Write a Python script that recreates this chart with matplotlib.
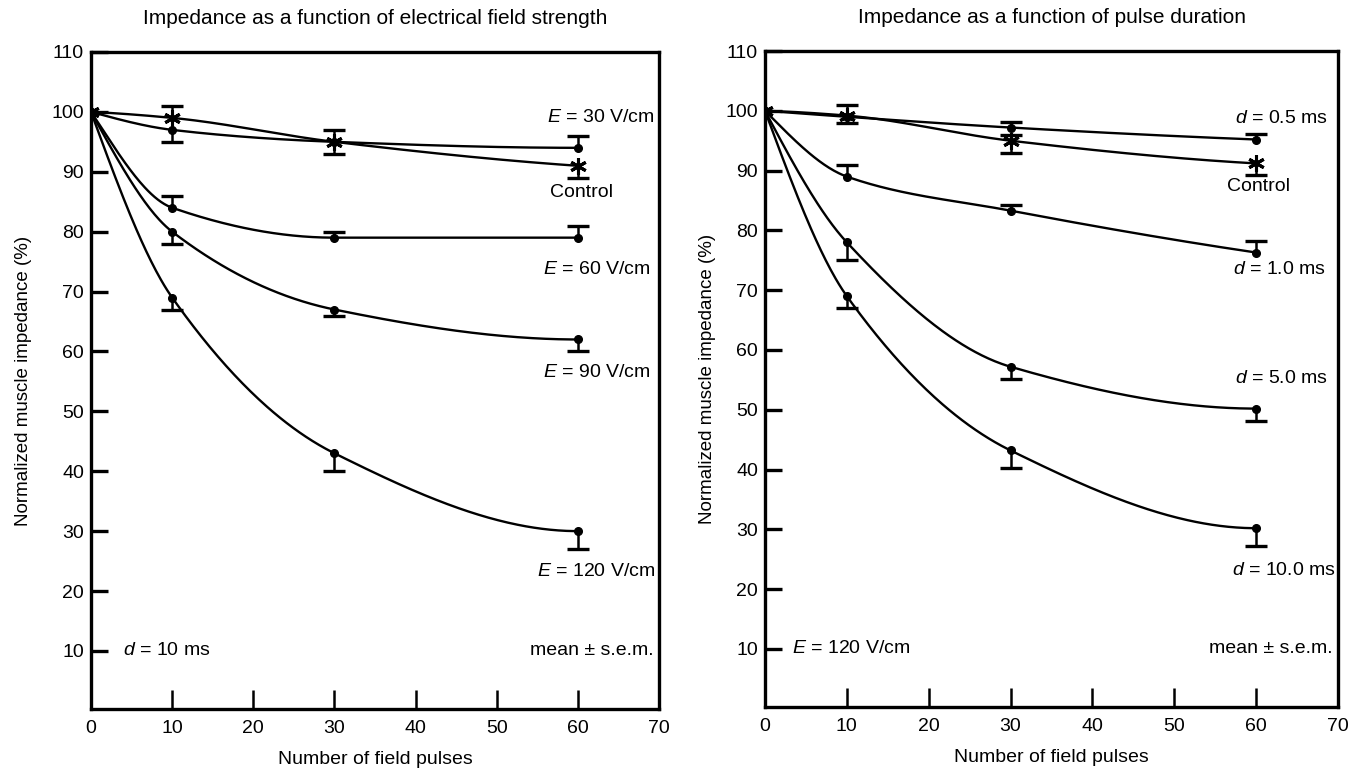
import numpy as np
import matplotlib
matplotlib.use("Agg")
import matplotlib.pyplot as plt

plt.rcParams['font.family'] = ['Liberation Sans', 'DejaVu Sans']
plt.rcParams['mathtext.fontset'] = 'custom'
plt.rcParams['mathtext.rm'] = 'Liberation Sans'
plt.rcParams['mathtext.it'] = 'Liberation Sans:italic'

# ---------------- data ----------------
pulses = [0, 10, 30, 60]

# Left panel: field strength (d = 10 ms)
e30 = [100, 97, 95, 94]
e30_up = [0, 0, 0, 2]
e30_dn = [0, 2, 0, 0]
ctrl_l = [100, 99, 95, 91]
ctrl_l_up = [0, 2, 2, 0]
ctrl_l_dn = [0, 0, 2, 2]
e60 = [100, 84, 79, 79]
e60_up = [0, 2, 1, 2]
e60_dn = [0, 0, 0, 0]
e90 = [100, 80, 67, 62]
e90_up = [0, 0, 0, 0]
e90_dn = [0, 2, 1, 2]
e120 = [100, 69, 43, 30]
e120_up = [0, 0, 0, 0]
e120_dn = [0, 2, 3, 3]

# Right panel: pulse duration (E = 120 V/cm)
d05 = [100, 99, 97.2, 95.2]
d05_up = [0, 0, 1, 1]
d05_dn = [0, 0, 0, 0]
ctrl_r = [100, 99.2, 95, 91.2]
ctrl_r_up = [0, 1.8, 1, 0]
ctrl_r_dn = [0, 1.2, 2, 2]
d10 = [100, 89, 83.3, 76.3]
d10_up = [0, 2, 1, 2]
d10_dn = [0, 0, 0, 0]
d50 = [100, 78, 57.2, 50.2]
d50_up = [0, 0, 0, 0]
d50_dn = [0, 3, 2, 2]
d100 = [100, 69, 43.2, 30.2]
d100_up = [0, 0, 0, 0]
d100_dn = [0, 2, 3, 3]

x_ticks = [0, 10, 20, 30, 40, 50, 60, 70]
y_ticks = [10, 20, 30, 40, 50, 60, 70, 80, 90, 100, 110]

title_left = "Impedance as a function of electrical field strength"
title_right = "Impedance as a function of pulse duration"
xlabel = "Number of field pulses"
ylabel = "Normalized muscle impedance (%)"


def pchip(x, y, xs):
    x = np.asarray(x, float)
    y = np.asarray(y, float)
    h = np.diff(x)
    delta = np.diff(y) / h
    n = len(x)
    d = np.zeros(n)
    for k in range(1, n - 1):
        if delta[k - 1] * delta[k] > 0:
            w1 = 2 * h[k] + h[k - 1]
            w2 = h[k] + 2 * h[k - 1]
            d[k] = (w1 + w2) / (w1 / delta[k - 1] + w2 / delta[k])
    def end(h0, h1, d0, d1):
        dd = ((2 * h0 + h1) * d0 - h0 * d1) / (h0 + h1)
        if np.sign(dd) != np.sign(d0):
            dd = 0
        elif np.sign(d0) != np.sign(d1) and abs(dd) > abs(3 * d0):
            dd = 3 * d0
        return dd
    d[0] = end(h[0], h[1], delta[0], delta[1])
    d[-1] = end(h[-1], h[-2], delta[-1], delta[-2])
    out = np.empty_like(xs)
    for i, xv in enumerate(xs):
        k = min(np.searchsorted(x, xv, side='right') - 1, n - 2)
        k = max(k, 0)
        t = (xv - x[k]) / h[k]
        h00 = 2 * t**3 - 3 * t**2 + 1
        h10 = t**3 - 2 * t**2 + t
        h01 = -2 * t**3 + 3 * t**2
        h11 = t**3 - t**2
        out[i] = h00 * y[k] + h10 * h[k] * d[k] + h01 * y[k + 1] + h11 * h[k] * d[k + 1]
    return out


LW = 1.7
FS = 14


def draw_series(ax, y, up, dn, marker):
    xs = np.linspace(pulses[0], pulses[-1], 300)
    ax.plot(xs, pchip(pulses, y, xs), color='black', lw=LW, zorder=3)
    if marker == 'star':
        ax.plot(pulses, y, ls='none', marker=(6, 2, 0), ms=12, mew=2.2,
                color='black', zorder=4)
    else:
        ax.plot(pulses, y, ls='none', marker='o', ms=5.5, color='black', zorder=4)
    for xv, yv, u, dd in zip(pulses, y, up, dn):
        if u > 0:
            ax.vlines(xv, yv, yv + u, color='black', lw=1.8, zorder=3)
            ax.plot([xv], [yv + u], marker='_', ms=16, mew=2.4, color='black', zorder=3)
        if dd > 0:
            ax.vlines(xv, yv - dd, yv, color='black', lw=1.8, zorder=3)
            ax.plot([xv], [yv - dd], marker='_', ms=16, mew=2.4, color='black', zorder=3)


def setup(ax, title, ypad):
    ax.set_xlim(0, 70)
    ax.set_ylim(0.3, 110)
    ax.set_xticks(x_ticks)
    ax.set_yticks(y_ticks)
    ax.tick_params(axis='x', direction='in', length=14, width=1.8, pad=8, labelsize=FS)
    ax.tick_params(axis='y', direction='in', length=12, width=2.4, pad=5, labelsize=FS)
    for s in ax.spines.values():
        s.set_linewidth(2.4)
    ax.set_xlabel(xlabel, fontsize=FS, labelpad=10)
    ax.set_ylabel(ylabel, fontsize=13.5, labelpad=ypad)
    ax.set_title(title, fontsize=15, pad=20)


fig = plt.figure(figsize=(13.55, 7.78), dpi=100)
axL = fig.add_axes([91 / 1355, 1 - 709 / 778, 568 / 1355, 657 / 778])
axR = fig.add_axes([765 / 1355, 1 - 707 / 778, 573 / 1355, 656 / 778])

setup(axL, title_left, 14)
setup(axR, title_right, 7)

draw_series(axL, e30, e30_up, e30_dn, 'dot')
draw_series(axL, ctrl_l, ctrl_l_up, ctrl_l_dn, 'star')
draw_series(axL, e60, e60_up, e60_dn, 'dot')
draw_series(axL, e90, e90_up, e90_dn, 'dot')
draw_series(axL, e120, e120_up, e120_dn, 'dot')

draw_series(axR, d05, d05_up, d05_dn, 'dot')
draw_series(axR, ctrl_r, ctrl_r_up, ctrl_r_dn, 'star')
draw_series(axR, d10, d10_up, d10_dn, 'dot')
draw_series(axR, d50, d50_up, d50_dn, 'dot')
draw_series(axR, d100, d100_up, d100_dn, 'dot')

axL.text(69.5, 99, r"$E$ = 30 V/cm", ha='right', va='center', fontsize=FS)
axL.text(60.5, 86.5, "Control", ha='center', va='center', fontsize=FS)
axL.text(69.0, 73.7, r"$E$ = 60 V/cm", ha='right', va='center', fontsize=FS)
axL.text(69.0, 56.5, r"$E$ = 90 V/cm", ha='right', va='center', fontsize=FS)
axL.text(69.5, 23.3, r"$E$ = 120 V/cm", ha='right', va='center', fontsize=FS)
axL.text(3.9, 10, r"$d$ = 10 ms", ha='left', va='center', fontsize=FS)
axL.text(69.3, 10, "mean ± s.e.m.", ha='right', va='center', fontsize=FS)

axR.text(68.8, 98.7, r"$d$ = 0.5 ms", ha='right', va='center', fontsize=FS)
axR.text(60.3, 87.3, "Control", ha='center', va='center', fontsize=FS)
axR.text(68.5, 73.4, r"$d$ = 1.0 ms", ha='right', va='center', fontsize=FS)
axR.text(68.8, 55.3, r"$d$ = 5.0 ms", ha='right', va='center', fontsize=FS)
axR.text(69.7, 23.1, r"$d$ = 10.0 ms", ha='right', va='center', fontsize=FS)
axR.text(3.3, 10, r"$E$ = 120 V/cm", ha='left', va='center', fontsize=FS)
axR.text(69.4, 10, "mean ± s.e.m.", ha='right', va='center', fontsize=FS)

fig.savefig("out.png", dpi=100)
